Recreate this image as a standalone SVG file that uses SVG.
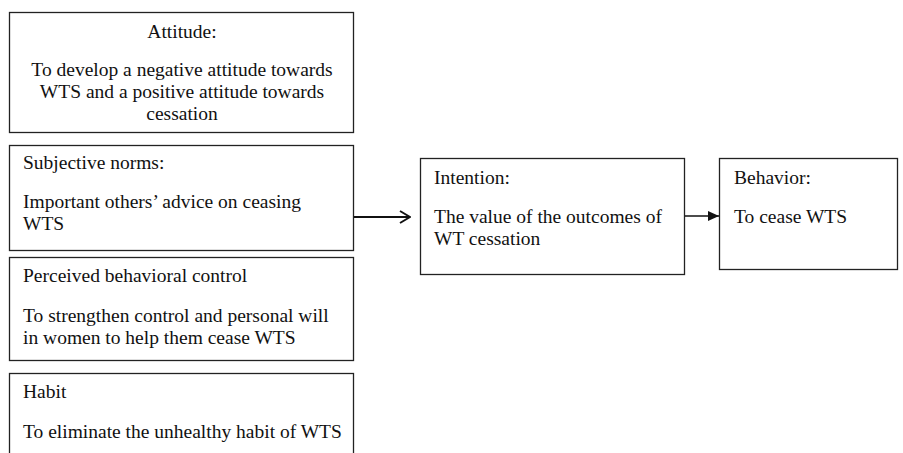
<svg xmlns="http://www.w3.org/2000/svg" width="903" height="453" viewBox="0 0 903 453">
<style>
.box{fill:#fff;stroke:#222;stroke-width:1.3}
text{font-family:"Liberation Serif","Times New Roman",serif;font-size:19.5px;fill:#111}
.c{text-anchor:middle}
.ln{stroke:#111;stroke-width:2;fill:none}
</style>
<defs>
<marker id="open" markerWidth="12" markerHeight="14" refX="11" refY="7" orient="auto" markerUnits="userSpaceOnUse">
<path d="M1,1 L11,7 L1,13" fill="none" stroke="#111" stroke-width="2"/>
</marker>
<marker id="tri" markerWidth="12" markerHeight="10" refX="11" refY="5" orient="auto" markerUnits="userSpaceOnUse">
<path d="M0,0 L11,5 L0,10 Z" fill="#111"/>
</marker>
</defs>
<rect width="903" height="453" fill="#fff"/>
<g id="attitude">
<rect class="box" x="9.5" y="12.5" width="344" height="120"/>
<text class="c" x="182" y="38">Attitude:</text>
<text class="c" x="182" y="75.5">To develop a negative attitude towards</text>
<text class="c" x="182" y="97.5">WTS and a positive attitude towards</text>
<text class="c" x="182" y="119.5">cessation</text>
</g>
<g id="subjective-norms">
<rect class="box" x="9.5" y="145.5" width="344" height="105"/>
<text x="23" y="169">Subjective norms:</text>
<text x="23" y="207.5">Important others’ advice on ceasing</text>
<text x="23" y="230">WTS</text>
</g>
<g id="perceived-control">
<rect class="box" x="9.5" y="257.5" width="344" height="103"/>
<text x="23" y="282">Perceived behavioral control</text>
<text x="23" y="322">To strengthen control and personal will</text>
<text x="23" y="344">in women to help them cease WTS</text>
</g>
<g id="habit">
<rect class="box" x="9.5" y="373.5" width="344" height="100"/>
<text x="23" y="398">Habit</text>
<text x="23" y="438">To eliminate the unhealthy habit of WTS</text>
</g>
<g id="intention">
<rect class="box" x="420.5" y="158.5" width="264" height="116"/>
<text x="434" y="184">Intention:</text>
<text x="434" y="222.5">The value of the outcomes of</text>
<text x="434" y="245">WT cessation</text>
</g>
<g id="behavior">
<rect class="box" x="719.5" y="158.5" width="178" height="111"/>
<text x="734" y="184">Behavior:</text>
<text x="734" y="222.5">To cease WTS</text>
</g>
<g id="connectors">
<line class="ln" x1="354" y1="217" x2="410" y2="217" marker-end="url(#open)"/>
<line x1="685" y1="216" x2="719" y2="216" stroke="#111" stroke-width="1.3" marker-end="url(#tri)"/>
</g>
</svg>
